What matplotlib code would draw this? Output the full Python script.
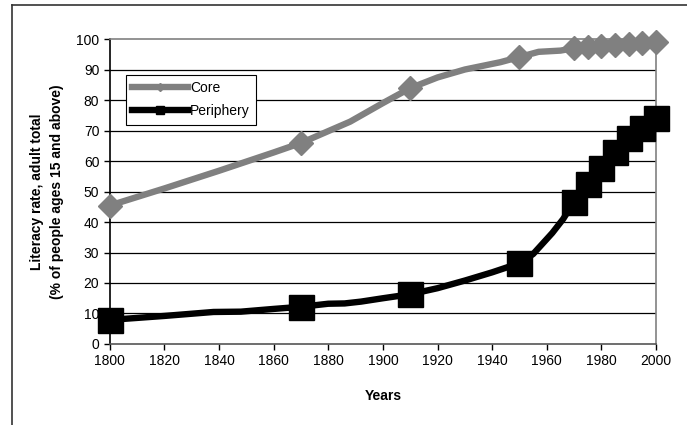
import matplotlib.pyplot as plt
from matplotlib.lines import Line2D

plt.rcParams['font.family'] = ['Liberation Sans', 'DejaVu Sans']

# Core: line points, with markers only at the surveyed years
core_years = [1800, 1820, 1840, 1860, 1870, 1880, 1888, 1900, 1910, 1920, 1930, 1943,
              1950, 1957, 1965, 1970, 1975, 1980, 1985, 1990, 1995, 2000]
core_vals = [45.4, 51.0, 56.8, 62.8, 65.9, 69.8, 72.9, 79.0, 83.9, 87.4, 90.0, 92.4,
             94.1, 95.8, 96.2, 97.0, 97.4, 97.8, 98.2, 98.5, 98.8, 99.0]
core_marked = [1800, 1870, 1910, 1950, 1970, 1975, 1980, 1985, 1990, 1995, 2000]

periph_years = [1800, 1820, 1838, 1848, 1860, 1870, 1880, 1886, 1892, 1900, 1910, 1920,
                1930, 1940, 1950, 1955, 1962, 1966, 1970, 1975, 1980, 1985, 1990, 1995, 2000]
periph_vals = [7.9, 9.2, 10.5, 10.6, 11.5, 12.2, 13.2, 13.3, 13.9, 15.0, 16.3, 18.3,
               20.8, 23.5, 26.5, 29.5, 36.4, 41.0, 46.7, 52.3, 57.8, 63.0, 67.4, 70.8, 74.0]
periph_marked = [1800, 1870, 1910, 1950, 1970, 1975, 1980, 1985, 1990, 1995, 2000]

fig = plt.figure(figsize=(6.87, 4.25), dpi=100)
ax = fig.add_axes([0.1597, 0.1906, 0.7953, 0.7176])

core_idx = [core_years.index(y) for y in core_marked]
periph_idx = [periph_years.index(y) for y in periph_marked]

ax.plot(core_years, core_vals, color='#808080', lw=4.6, marker='D', ms=12.5,
        markevery=core_idx, solid_capstyle='round', clip_on=False, zorder=3)
ax.plot(periph_years, periph_vals, color='black', lw=4.6, marker='s', ms=18,
        markevery=periph_idx, solid_capstyle='round', clip_on=False, zorder=4)

ax.set_xlim(1800, 2000)
ax.set_ylim(0, 100)
ax.set_xticks(range(1800, 2001, 20))
ax.set_yticks(range(0, 101, 10))
ax.tick_params(direction='out', length=4, width=1, labelsize=10, colors='black')
for v in range(10, 100, 10):
    ax.axhline(v, color='black', lw=0.9, zorder=1)

ax.spines['left'].set_color('black')
ax.spines['bottom'].set_color('#555555')
ax.spines['right'].set_color('#808080')
ax.spines['top'].set_color('#808080')
for s in ax.spines.values():
    s.set_linewidth(1.2)

ax.set_xlabel('Years', fontsize=10, fontweight='bold', labelpad=15)
ax.set_ylabel('Literacy rate, adult total\n(% of people ages 15 and above)',
              fontsize=10, fontweight='bold', labelpad=9, linespacing=1.55)

handles = [
    Line2D([], [], color='#808080', lw=4.6, marker='D', ms=4),
    Line2D([], [], color='black', lw=4.6, marker='s', ms=6),
]
leg = ax.legend(handles, ['Core', 'Periphery'], loc='upper left',
                bbox_to_anchor=(0.03, 0.882), borderaxespad=0, fontsize=10,
                handlelength=4, handletextpad=0.15, borderpad=0.45,
                labelspacing=0.65, fancybox=False, framealpha=1, edgecolor='black')
leg.get_frame().set_linewidth(0.8)

# outer chart border (left and top edges visible)
fig.add_artist(Line2D([12 / 687, 12 / 687], [0, 1 - 5 / 425], color='#333333', lw=1.2))
fig.add_artist(Line2D([12 / 687, 1], [1 - 5 / 425, 1 - 5 / 425], color='#333333', lw=1.2))

fig.savefig('out.png', dpi=100)
